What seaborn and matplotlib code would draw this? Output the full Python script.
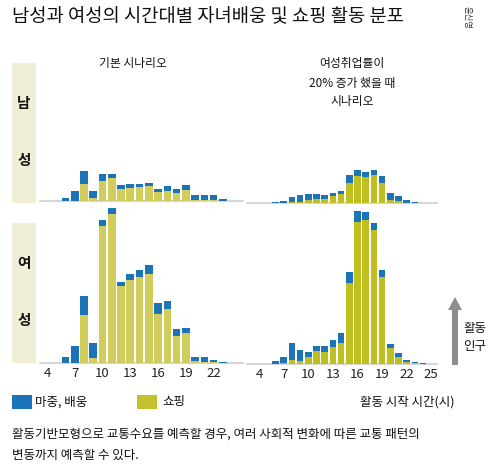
import matplotlib
matplotlib.use('Agg')
import matplotlib.pyplot as plt
import seaborn as sns
import pandas as pd
from matplotlib.patches import Rectangle, FancyArrow
from matplotlib.transforms import IdentityTransform

# ---------------- data ----------------
hours_base = list(range(6, 24))
hours_scen = list(range(6, 25))

male_base_escort = [2.3, 9.7, 13.3, 7.4, 6.3, 3.3, 4.0, 4.0, 3.7, 3.0, 2.3, 5.0, 3.7, 4.6, 5.0, 5.2, 5.2, 1.7]
male_base_shop = [0, 0, 16.7, 2.3, 20, 23, 11.3, 13, 13.3, 15, 9, 9.7, 8, 10.7, 0.7, 0.5, 0.5, 0]

female_base_escort = [5.7, 16.3, 19.7, 14.3, 5.3, 5.6, 3.6, 6.0, 7.3, 9.0, 11.3, 8.4, 7.3, 5.7, 4.0, 4.7, 2.2, 1.0]
female_base_shop = [0, 0, 47.3, 5, 137, 148.7, 76.7, 82.7, 85.7, 88.7, 48.7, 53.3, 26.7, 29.3, 2, 1, 0.5, 0]

male_scen_escort = [1.3, 2.7, 5.0, 6.6, 6.4, 5.4, 4.4, 3.0, 3.0, 8.0, 6.3, 5.3, 5.3, 7.0, 7.0, 5.0, 3.0, 1.7, 0]
male_scen_shop = [0, 0, 1, 1.7, 3.3, 4.3, 4.3, 7.3, 9.3, 20, 27, 26, 28, 20, 3, 2.3, 0.3, 0, 0]

female_scen_escort = [2.5, 5.8, 17.0, 11.0, 4.7, 4.7, 5.4, 7.0, 10.0, 11.6, 11.3, 8.3, 7.3, 6.4, 4.6, 3.7, 1.7, 1.0, 0.8]
female_scen_shop = [0, 1, 3.5, 2.2, 6.8, 12.5, 11.8, 16.8, 20.5, 80.2, 141.5, 143.5, 133.5, 86.8, 15.2, 6.8, 1.8, 0.8, 0]

ticks_base = [4, 7, 10, 13, 16, 19, 22]
ticks_scen = [4, 7, 10, 13, 16, 19, 22, 25]

title = "남성과 여성의 시간대별 자녀배웅 및 쇼핑 활동 분포"
col_titles = ["기본 시나리오", "여성취업률이\n20% 증가 했을 때\n시나리오"]
legend_labels = ["마중, 배웅", "쇼핑"]
xlabel = "활동 시작 시간(시)"
ylabel = "활동\n인구"
caption = ["활동기반모형으로 교통수요를 예측할 경우, 여러 사회적 변화에 따른 교통 패턴의",
           "변동까지 예측할 수 있다."]

# ---------------- style ----------------
BLUE = "#1b73b8"
YEL_L = "#d0cd5c"
YEL_R = "#bfbf22"
YEL_LEG = "#c4c22c"
STRIP = "#f0eed6"
BASE = "#d6d6d6"

sns.set_theme(style="white")
plt.rcParams['font.family'] = ['Noto Sans CJK KR', 'DejaVu Sans']

W, H = 496, 469
fig = plt.figure(figsize=(W / 100, H / 100), dpi=100)


def add_ax(x0, x1, ytop, ybase):
    return fig.add_axes([x0 / W, 1 - ybase / H, (x1 - x0) / W, (ybase - ytop) / H])


def draw(ax, hours, escort, shop, ycol, xlim, height, ticks):
    total = [e + s for e, s in zip(escort, shop)]
    df = pd.DataFrame({"hour": hours, "total": total, "shop": shop})
    sns.barplot(data=df, x="hour", y="total", native_scale=True, color=BLUE,
                saturation=1, width=0.82, linewidth=0, errorbar=None, ax=ax)
    sns.barplot(data=df, x="hour", y="shop", native_scale=True, color=ycol,
                saturation=1, width=0.82, linewidth=0, errorbar=None, ax=ax)
    ax.set_xlim(*xlim)
    ax.set_ylim(0, height)
    ax.axhline(0, color=BASE, lw=1.5, zorder=0.5, clip_on=False)
    for s in ax.spines.values():
        s.set_visible(False)
    ax.set_xlabel("")
    ax.set_ylabel("")
    ax.set_yticks([])
    ax.patch.set_alpha(0)
    if ticks:
        ax.set_xticks(ticks)
        ax.set_xticklabels([str(t) for t in ticks])
        ax.tick_params(axis="x", length=0, pad=3, labelsize=9.5, colors="#222222")
    else:
        ax.set_xticks([])


xl_left = (3.25, 25.17)
xl_right = (2.52, 25.7)

ax1 = add_ax(40, 243, 63, 200.7)
draw(ax1, hours_base, male_base_escort, male_base_shop, YEL_L, xl_left, 200.7 - 63, None)
ax2 = add_ax(247, 437, 63, 203.3)
draw(ax2, hours_scen, male_scen_escort, male_scen_shop, YEL_R, xl_right, 203.3 - 63, None)
ax3 = add_ax(40, 243, 205, 362.7)
draw(ax3, hours_base, female_base_escort, female_base_shop, YEL_L, xl_left, 362.7 - 205, ticks_base)
ax4 = add_ax(247, 437, 205, 363.7)
draw(ax4, hours_scen, female_scen_escort, female_scen_shop, YEL_R, xl_right, 363.7 - 205, ticks_scen)

ID = IdentityTransform()


def T(x, y, s, **kw):
    fig.text(x / W, 1 - y / H, s, **kw)


def rect(x0, y0, x1, y1, color):
    fig.add_artist(Rectangle((x0, H - y1), x1 - x0, y1 - y0, color=color,
                             transform=ID, lw=0))


# title
T(12, 17, title, fontsize=13.5, va="center", ha="left", color="#111111")
T(467, 17, "윤신영", fontsize=6, rotation=-90, va="center", ha="center", color="#333333")

# column titles
T(133, 63, col_titles[0], fontsize=8.5, ha="center", va="center", color="#111111")
T(352, 83, col_titles[1], fontsize=8.5, ha="center", va="center", color="#111111",
  linespacing=1.6)

# row strips
rect(12, 63, 36, 203, STRIP)
rect(12, 223, 36, 363, STRIP)
T(24, 103, "남", fontsize=10.5, fontweight="bold", ha="center", va="center", color="#111111")
T(24, 160, "성", fontsize=10.5, fontweight="bold", ha="center", va="center", color="#111111")
T(24, 263, "여", fontsize=10.5, fontweight="bold", ha="center", va="center", color="#111111")
T(24, 320, "성", fontsize=10.5, fontweight="bold", ha="center", va="center", color="#111111")

# arrow + y label
fig.add_artist(FancyArrow(455, H - 365, 0, 68, width=6, head_width=14, head_length=13,
                          length_includes_head=True, color="#8e8e90", transform=ID, lw=0))
T(463, 337, ylabel, fontsize=9, ha="left", va="center", color="#111111", linespacing=1.5)

# legend
rect(12, 395, 32, 409, BLUE)
T(35, 402, legend_labels[0], fontsize=9, ha="left", va="center", color="#111111")
rect(137, 395, 157, 409, YEL_LEG)
T(162, 402, legend_labels[1], fontsize=9, ha="left", va="center", color="#111111")
T(360, 402, xlabel, fontsize=9, ha="left", va="center", color="#111111")

# caption
T(12, 434, caption[0], fontsize=9, ha="left", va="center", color="#111111")
T(12, 455, caption[1], fontsize=9, ha="left", va="center", color="#111111")

fig.savefig("out.png", dpi=100)
